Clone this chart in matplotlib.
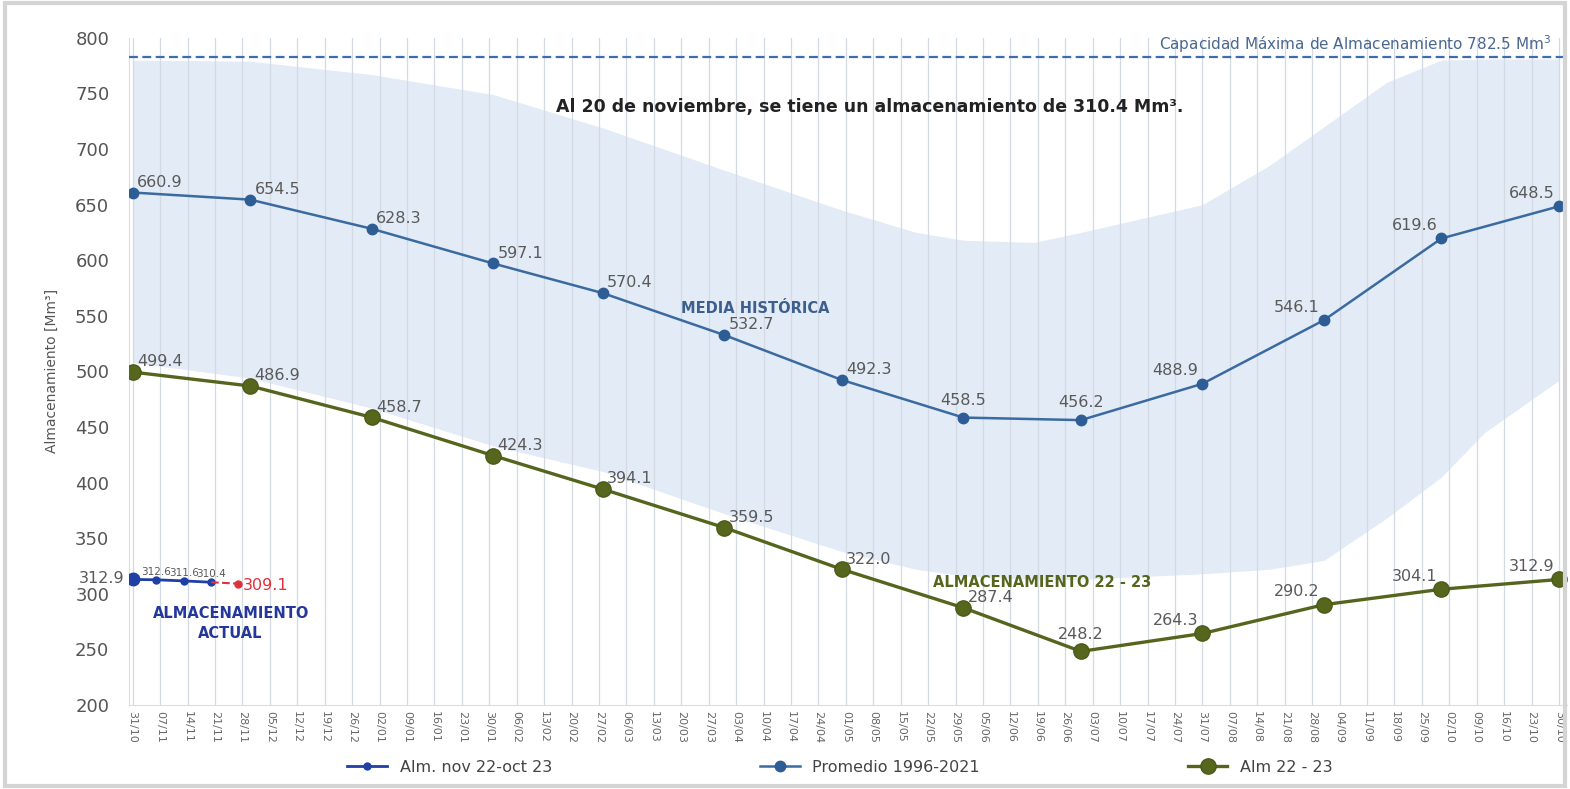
import numpy as np
import matplotlib.pyplot as plt
from matplotlib.patches import Rectangle

# dias desde el 31/10/2022
dias_mes = [0, 30, 61, 92, 120, 151, 181, 212, 242, 273, 304, 334, 364]
promedio = [660.9, 654.5, 628.3, 597.1, 570.4, 532.7, 492.3, 458.5, 456.2, 488.9, 546.1, 619.6, 648.5]
alm_2223 = [499.4, 486.9, 458.7, 424.3, 394.1, 359.5, 322.0, 287.4, 248.2, 264.3, 290.2, 304.1, 312.9]

dias_actual = [0, 6, 13, 20]
alm_actual = [312.9, 312.6, 311.6, 310.4]
dia_pron = 27
alm_pron = 309.1

# rango historico (max / min)
band_dias = [0, 30, 61, 92, 120, 151, 181, 200, 212, 230, 242, 273, 290, 304, 320, 334, 345, 364]
band_max = [780, 779, 767, 749, 719, 681, 645, 625, 618, 616, 625, 650, 685, 720, 760, 780, 781, 781]
band_min = [508, 494, 467, 433, 410, 372, 338, 322, 316, 313, 313, 318, 322, 330, 368, 405, 445, 492]

capacidad = 782.5

tick_labels = ['31/10', '07/11', '14/11', '21/11', '28/11', '05/12', '12/12', '19/12', '26/12',
               '02/01', '09/01', '16/01', '23/01', '30/01', '06/02', '13/02', '20/02', '27/02',
               '06/03', '13/03', '20/03', '27/03', '03/04', '10/04', '17/04', '24/04', '01/05',
               '08/05', '15/05', '22/05', '29/05', '05/06', '12/06', '19/06', '26/06', '03/07',
               '10/07', '17/07', '24/07', '31/07', '07/08', '14/08', '21/08', '28/08', '04/09',
               '11/09', '18/09', '25/09', '02/10', '09/10', '16/10', '23/10', '30/10']

c_prom = '#3b6aa0'
c_verde = '#55651d'
c_actual = '#1d3fa6'
c_rojo = '#e0303a'
c_txt = '#5a5a5a'

fig = plt.figure(figsize=(15.7, 7.89), dpi=100)
fig.patches.append(Rectangle((0.003, 0.004), 0.994, 0.992, transform=fig.transFigure,
                             fill=False, edgecolor='#d4d4d4', lw=3))
ax = fig.add_axes([0.082, 0.1065, 0.916, 0.8455])

ax.fill_between(band_dias, band_min, band_max, color='#e2ebf6', lw=0, zorder=1)

semanas = np.arange(len(tick_labels)) * 7
for s in semanas:
    ax.axvline(s, color='#d3dae3', lw=0.9, zorder=2)

ax.axhline(capacidad, color='#3e6cb0', ls=(0, (4, 2)), lw=1.6, zorder=3)
ax.text(362, capacidad + 2, 'Capacidad Máxima de Almacenamiento 782.5 Mm$^3$', ha='right',
        va='bottom', fontsize=11, color='#4a6790')

ax.plot(dias_mes, promedio, color=c_prom, lw=1.8, marker='o', ms=7.5, mfc='#2e5d95',
        mec='#2e5d95', zorder=5, label='Promedio 1996-2021')
ax.plot(dias_mes, alm_2223, color=c_verde, lw=2.4, marker='o', ms=11, mfc='#56661c',
        mec='#4a5a17', zorder=5, label='Alm 22 - 23')
ax.plot(dias_actual, alm_actual, color=c_actual, lw=2, marker='o', ms=5, zorder=6,
        label='Alm. nov 22-oct 23')
ax.plot(dias_actual[0], alm_actual[0], 'o', color=c_actual, ms=9, zorder=6)
ax.plot([dias_actual[-1], dia_pron], [alm_actual[-1], alm_pron], color=c_rojo, lw=1.5,
        ls='--', zorder=6)
ax.plot(dia_pron, alm_pron, 'o', color=c_rojo, ms=5, zorder=7)

# etiquetas de datos
pos_prom = ['r', 'r', 'r', 'r', 'r', 'r', 'r', 'c', 'c', 'l', 'l', 'l', 'l']
pos_verde = ['r', 'r', 'r', 'r', 'r', 'r', 'r', 'r', 'c', 'l', 'l', 'l', 'l']
for serie, pos in ((promedio, pos_prom), (alm_2223, pos_verde)):
    for d, v, p in zip(dias_mes, serie, pos):
        if p == 'r':
            ax.annotate(f'{v:.1f}', (d, v), xytext=(3, 2), textcoords='offset points',
                        ha='left', va='bottom', fontsize=11.5, color=c_txt, zorder=8)
        elif p == 'l':
            ax.annotate(f'{v:.1f}', (d, v), xytext=(-3, 4), textcoords='offset points',
                        ha='right', va='bottom', fontsize=11.5, color=c_txt, zorder=8)
        else:
            ax.annotate(f'{v:.1f}', (d, v), xytext=(0, 7), textcoords='offset points',
                        ha='center', va='bottom', fontsize=11.5, color=c_txt, zorder=8)

ax.annotate(f'{alm_actual[0]:.1f}', (dias_actual[0], alm_actual[0]), xytext=(-6, 1),
            textcoords='offset points', ha='right', va='center', fontsize=11.5, color=c_txt)
for d, v in zip(dias_actual[1:], alm_actual[1:]):
    ax.annotate(f'{v:.1f}', (d, v), xytext=(0, 2), textcoords='offset points',
                ha='center', va='bottom', fontsize=7.5, color=c_txt)
ax.annotate(f'{alm_pron:.1f}', (dia_pron, alm_pron), xytext=(3, -1), textcoords='offset points',
            ha='left', va='center', fontsize=11.5, color=c_rojo)

ax.text(188, 738, 'Al 20 de noviembre, se tiene un almacenamiento de 310.4 Mm³.',
        ha='center', va='center', fontsize=12.5, fontweight='bold', color='#222222', zorder=8)
ax.text(159, 557, 'MEDIA HISTÓRICA', ha='center', va='center', fontsize=10.5,
        fontweight='bold', color='#3d5f8e', zorder=8)
ax.text(232, 310, 'ALMACENAMIENTO 22 - 23', ha='center', va='center', fontsize=10.5,
        fontweight='bold', color='#55651d', zorder=8)
ax.text(25, 273, 'ALMACENAMIENTO\nACTUAL', ha='center', va='center', fontsize=10.5,
        fontweight='bold', color='#24379a', linespacing=1.4, zorder=8)

ax.set_xlim(-1, 366)
ax.set_ylim(200, 800)
ax.set_yticks(np.arange(200, 801, 50))
ax.set_xticks(semanas)
ax.set_xticklabels(tick_labels, rotation=-90, fontsize=8, color='#666666')
ax.tick_params(axis='y', labelsize=13, colors='#555555', length=0, pad=14)
ax.tick_params(axis='x', length=0, pad=4)
ax.set_ylabel('Almacenamiento [Mm³]', fontsize=10, color='#555555', labelpad=12)
for lado in ['top', 'right']:
    ax.spines[lado].set_visible(False)
ax.spines['left'].set_color('#dddddd')
ax.spines['bottom'].set_color('#dddddd')

h, l = ax.get_legend_handles_labels()
orden = [2, 0, 1]
fig.legend([h[i] for i in orden], [l[i] for i in orden], loc='lower center', ncol=3,
           bbox_to_anchor=(0.535, 0.0), frameon=False, fontsize=11.5, columnspacing=13,
           handlelength=2.5, labelcolor='#444444')

fig.savefig('out.png', dpi=100)
